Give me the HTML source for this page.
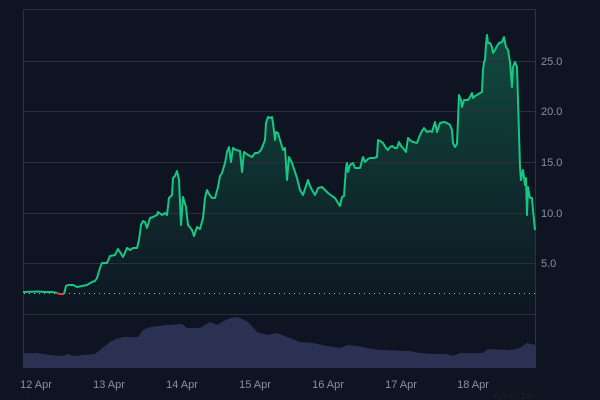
<!DOCTYPE html>
<html>
<head>
<meta charset="utf-8">
<style>
html,body{margin:0;padding:0;background:#0e1421;}
body{width:600px;height:400px;overflow:hidden;}
svg{display:block;}
text{font-family:"Liberation Sans",Arial,sans-serif;}
</style>
</head>
<body>
<svg width="600" height="400" viewBox="0 0 600 400" xmlns="http://www.w3.org/2000/svg">
<defs>
<linearGradient id="g" gradientUnits="userSpaceOnUse" x1="0" y1="35" x2="0" y2="314">
<stop offset="0" stop-color="#16c784" stop-opacity="0.30"/>
<stop offset="0.6" stop-color="#16c784" stop-opacity="0.12"/>
<stop offset="1" stop-color="#16c784" stop-opacity="0.01"/>
</linearGradient>
</defs>
<rect width="600" height="400" fill="#0e1421"/>

<!-- area fill -->
<path fill="url(#g)" d="M23,292 L30,291.7 L38,291.5 L45,292 L52,292 L57,293 L60,294 L64,294 L66,286 L68,285 L73,285 L77,287 L82,286 L87,285 L92,282 L95,281 L97,278 L100,268 L102,263 L107,263 L110,256 L115,255 L118,249 L120,252 L123,257 L127,248 L130,250 L133,248 L137,248 L139,240 L141,225 L143,221 L145,222 L147,228 L150,218 L153,217 L157,215 L158,212 L162,215 L165,213 L167,215 L169,198 L172,195 L173,178 L175,176 L177,171 L179,180 L181,225 L183,197 L186,207 L188,225 L192,230 L194,236 L197,227 L200,229 L203,218 L205,198 L207,190 L209,194 L212,198 L215,198 L218,187 L220,176 L222,173 L225,163 L227,152 L229,147 L231,162 L233,148 L236,150 L240,151 L242,172 L244,152 L248,155 L252,157 L255,153 L258,153 L261,150 L263,145 L265,140 L266,123 L268,117 L270,118 L272,117 L273,123 L275,140 L276,132 L278,133 L280,140 L283,150 L285,148 L287,180 L289,157 L292,163 L295,172 L297,178 L300,190 L303,195 L306,186 L308,180 L310,186 L312,190 L315,195 L318,188 L322,187 L325,190 L328,193 L332,196 L335,198 L338,203 L340,206 L342,197 L344,196 L346,168 L347,163 L348,172 L350,165 L353,163 L355,168 L360,168 L363,157 L365,162 L368,159 L370,158 L374,158 L377,157 L378,140 L380,141 L383,143 L386,148 L388,150 L390,147 L392,146 L395,148 L397,148 L399,142 L401,146 L403,148 L406,152 L408,138 L411,141 L413,142 L417,143 L420,135 L422,131 L424,128 L427,132 L430,131 L432,132 L435,122 L437,132 L440,123 L444,122 L447,123 L450,125 L452,130 L453,143 L455,147 L457,144 L458,120 L459,95 L461,100 L462,107 L464,100 L468,100 L470,97 L472,93 L473,98 L475,96 L477,95 L480,93 L482,92 L483,70 L484,62 L485,60 L486,45 L487,35 L488,43 L490,43 L492,47 L493,53 L495,50 L497,46 L499,43 L502,42 L504,37 L506,47 L508,50 L510,62 L512,87 L513,67 L515,62 L517,67 L518,100 L520,167 L521,180 L522,175 L523,170 L525,185 L526,178 L527,215 L528,187 L530,198 L532,198 L533,210 L535,230 L535,314 L23,314 Z"/>

<!-- grid -->
<g stroke="#2a2f3b" stroke-width="1">
<line x1="23" y1="61.5" x2="535" y2="61.5"/>
<line x1="23" y1="111.5" x2="535" y2="111.5"/>
<line x1="23" y1="162.5" x2="535" y2="162.5"/>
<line x1="23" y1="213.5" x2="535" y2="213.5"/>
<line x1="23" y1="263.5" x2="535" y2="263.5"/>
<line x1="23" y1="314.5" x2="535" y2="314.5"/>
</g>

<!-- volume -->
<path fill="#2b3152" d="M24,353 L37,353 L50,355 L63,356 L68,354 L73,356 L95,354 L100,350 L105,346 L110,342 L116,339 L123,337 L138,337 L143,330 L150,327 L167,325 L182,324 L187,328 L200,328 L205,325 L210,322 L217,325 L224,321 L230,318 L236,317 L240,318 L248,322 L257,332 L267,335 L277,333 L287,337 L300,342 L313,343 L327,346 L340,348 L348,345 L357,346 L367,348 L380,350 L410,351 L420,353 L433,354 L447,354 L453,356 L460,353 L482,353 L488,349 L510,350 L520,348 L524,345 L527,343 L531,344 L535,345 L535,368 L24,368 Z"/>

<!-- frame -->
<g stroke="#2e3340" stroke-width="1" fill="none">
<line x1="23.5" y1="9.5" x2="535.5" y2="9.5"/>
<line x1="23.5" y1="9.5" x2="23.5" y2="368"/>
<line x1="535.5" y1="9.5" x2="535.5" y2="368"/>
</g>

<!-- reference dotted line -->
<line x1="24" y1="293.5" x2="535" y2="293.5" stroke="#c9ced8" stroke-width="1" stroke-dasharray="1 4" opacity="0.85"/>

<!-- price line -->
<path fill="none" stroke="#16c784" stroke-width="2" stroke-linejoin="round" d="M23,292 L30,291.7 L38,291.5 L45,292 L52,292 L57,292.8"/>
<path fill="none" stroke="#ea3943" stroke-width="2" stroke-linejoin="round" d="M57,293 L60,294 L64,294"/>
<path fill="none" stroke="#16c784" stroke-width="2" stroke-linejoin="round" d="M64,294 L66,286 L68,285 L73,285 L77,287 L82,286 L87,285 L92,282 L95,281 L97,278 L100,268 L102,263 L107,263 L110,256 L115,255 L118,249 L120,252 L123,257 L127,248 L130,250 L133,248 L137,248 L139,240 L141,225 L143,221 L145,222 L147,228 L150,218 L153,217 L157,215 L158,212 L162,215 L165,213 L167,215 L169,198 L172,195 L173,178 L175,176 L177,171 L179,180 L181,225 L183,197 L186,207 L188,225 L192,230 L194,236 L197,227 L200,229 L203,218 L205,198 L207,190 L209,194 L212,198 L215,198 L218,187 L220,176 L222,173 L225,163 L227,152 L229,147 L231,162 L233,148 L236,150 L240,151 L242,172 L244,152 L248,155 L252,157 L255,153 L258,153 L261,150 L263,145 L265,140 L266,123 L268,117 L270,118 L272,117 L273,123 L275,140 L276,132 L278,133 L280,140 L283,150 L285,148 L287,180 L289,157 L292,163 L295,172 L297,178 L300,190 L303,195 L306,186 L308,180 L310,186 L312,190 L315,195 L318,188 L322,187 L325,190 L328,193 L332,196 L335,198 L338,203 L340,206 L342,197 L344,196 L346,168 L347,163 L348,172 L350,165 L353,163 L355,168 L360,168 L363,157 L365,162 L368,159 L370,158 L374,158 L377,157 L378,140 L380,141 L383,143 L386,148 L388,150 L390,147 L392,146 L395,148 L397,148 L399,142 L401,146 L403,148 L406,152 L408,138 L411,141 L413,142 L417,143 L420,135 L422,131 L424,128 L427,132 L430,131 L432,132 L435,122 L437,132 L440,123 L444,122 L447,123 L450,125 L452,130 L453,143 L455,147 L457,144 L458,120 L459,95 L461,100 L462,107 L464,100 L468,100 L470,97 L472,93 L473,98 L475,96 L477,95 L480,93 L482,92 L483,70 L484,62 L485,60 L486,45 L487,35 L488,43 L490,43 L492,47 L493,53 L495,50 L497,46 L499,43 L502,42 L504,37 L506,47 L508,50 L510,62 L512,87 L513,67 L515,62 L517,67 L518,100 L520,167 L521,180 L522,175 L523,170 L525,185 L526,178 L527,215 L528,187 L530,198 L532,198 L533,210 L535,230"/>

<!-- y labels -->
<g fill="#8b909b" font-size="11">
<text x="541" y="65">25.0</text>
<text x="541" y="115">20.0</text>
<text x="541" y="166">15.0</text>
<text x="541" y="217">10.0</text>
<text x="541" y="267">5.0</text>
</g>

<!-- x labels -->
<g fill="#8b909b" font-size="11" text-anchor="middle">
<text x="36" y="388">12 Apr</text>
<text x="109" y="388">13 Apr</text>
<text x="182" y="388">14 Apr</text>
<text x="255" y="388">15 Apr</text>
<text x="328" y="388">16 Apr</text>
<text x="401" y="388">17 Apr</text>
<text x="473" y="388">18 Apr</text>
</g>

<text x="493" y="399" fill="#1c1f26" font-size="11">Analyze</text>
<text x="25" y="401" fill="#1c1f26" font-size="10">9</text>
</svg>
</body>
</html>
